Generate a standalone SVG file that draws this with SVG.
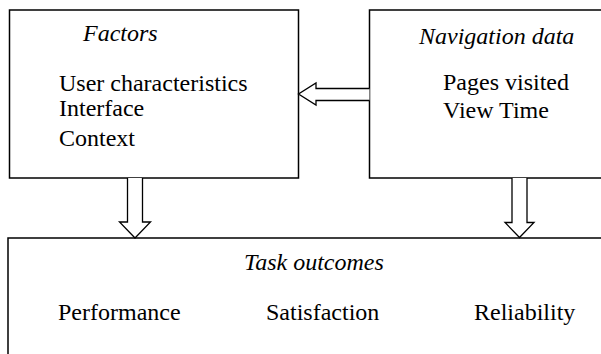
<svg xmlns="http://www.w3.org/2000/svg" width="601" height="354" viewBox="0 0 601 354">
  <style>
    .box { fill: #ffffff; stroke: #000000; stroke-width: 1.5; }
    .arrow { fill: #ffffff; stroke: #000000; stroke-width: 1.3; stroke-linejoin: miter; }
    .label { font-family: 'Liberation Serif', 'Times New Roman', Tinos, 'DejaVu Serif', serif; font-size: 24px; fill: #000000; }
    .title { font-style: italic; }
  </style>
  <rect width="601" height="354" fill="#ffffff"/>

  <g id="factors">
    <rect class="box" x="9.5" y="10" width="289" height="168"/>
    <text class="label title" x="83" y="41">Factors</text>
    <text class="label" x="59" y="91">User characteristics</text>
    <text class="label" x="59" y="116">Interface</text>
    <text class="label" x="59" y="146">Context</text>
  </g>

  <g id="navigation-data">
    <rect class="box" x="369.5" y="10" width="240" height="168"/>
    <text class="label title" x="419" y="44">Navigation data</text>
    <text class="label" x="443" y="90">Pages visited</text>
    <text class="label" x="443" y="118">View Time</text>
  </g>

  <g id="task-outcomes">
    <rect class="box" x="8" y="238" width="600" height="130"/>
    <text class="label title" x="244" y="270">Task outcomes</text>
    <text class="label" x="58" y="320">Performance</text>
    <text class="label" x="266" y="320">Satisfaction</text>
    <text class="label" x="474" y="320">Reliability</text>
  </g>

  <g id="connectors">
    <!-- navigation data feeds factors -->
    <path class="arrow" d="M369.5,88.5 L316,88.5 L316,83 L298.5,94 L316,105 L316,100.5 L369.5,100.5"/>
    <!-- factors to task outcomes -->
    <path class="arrow" d="M127.5,178 L127.5,222 L119.5,222 L135,238 L150.5,222 L142.5,222 L142.5,178"/>
    <!-- navigation data to task outcomes -->
    <path class="arrow" d="M512,178 L512,222.5 L505,222.5 L519.5,237.5 L534,222.5 L527,222.5 L527,178"/>
  </g>
</svg>
